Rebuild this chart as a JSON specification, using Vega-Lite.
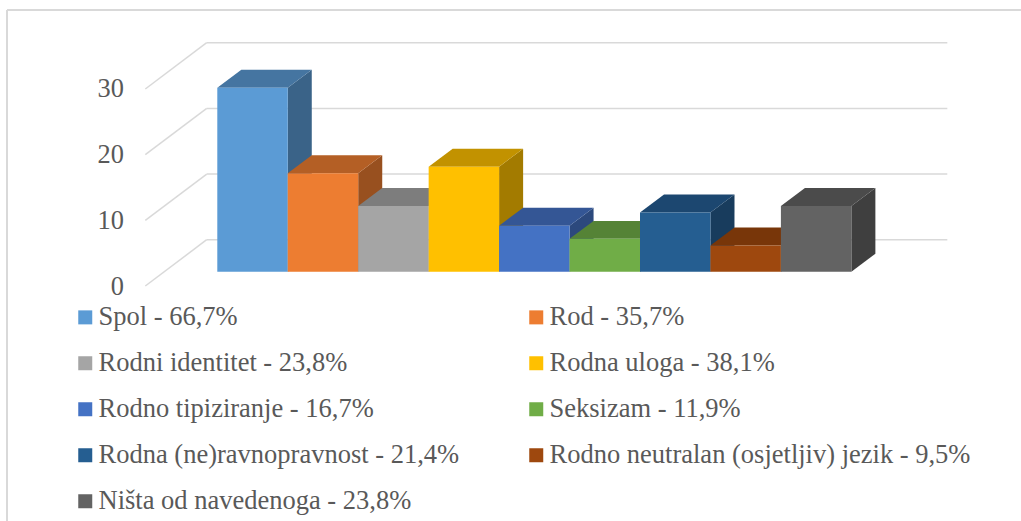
{"$schema":"https://vega.github.io/schema/vega-lite/v6.json","width":1014,"height":511,"autosize":{"type":"none"},"padding":{"left":7,"top":10,"right":0,"bottom":0},"background":"white","config":{"view":{"stroke":null},"font":"Liberation Serif","axisY":{"title":null,"domain":false,"ticks":false,"grid":false,"labelFont":"Liberation Serif","labelFontSize":26.4,"labelColor":"#595959","labelPadding":0,"labelOffset":14.3,"offset":-116.5,"labelBound":false,"labelFlush":false,"labelOverlap":false}},
"data":{"values":[{"label":"Spol - 66,7%","value":28},{"label":"Rod - 35,7%","value":15},{"label":"Rodni identitet - 23,8%","value":10},{"label":"Rodna uloga - 38,1%","value":16},{"label":"Rodno tipiziranje - 16,7%","value":7},{"label":"Seksizam - 11,9%","value":5},{"label":"Rodna (ne)ravnopravnost - 21,4%","value":9},{"label":"Rodno neutralan (osjetljiv) jezik - 9,5%","value":4},{"label":"Ništa od navedenoga - 23,8%","value":10}]},
"transform":[{"window":[{"op":"row_number","as":"n"}]},{"calculate":"datum.n-1","as":"i"},{"calculate":"datum.n","as":"i1"}],
"resolve":{"scale":{"color":"independent"}},
"layer":[
{"data":{"values":[{"tick":0},{"tick":10},{"tick":20},{"tick":30}]},"transform":[{"calculate":"datum.tick+4.87","as":"back"},{"calculate":"-0.15","as":"xa"},{"calculate":"10.362","as":"xb"}],"mark":{"type":"rule","stroke":"#d9d9d9","strokeWidth":1.5},"encoding":{"x":{"field":"xa","type":"quantitative","scale":{"domain":[-2.985,11.408],"nice":false,"zero":false},"axis":null},"x2":{"field":"xb"},"y":{"field":"back","type":"quantitative","title":null,"axis":{"values":[0,10,20,30]},"scale":{"domain":[-37.96,39.85],"nice":false,"zero":false}}}},
{"data":{"values":[{"tick":0},{"tick":10},{"tick":20},{"tick":30}]},"transform":[{"calculate":"datum.tick+4.87","as":"back"},{"calculate":"datum.tick-2.18","as":"front"},{"calculate":"-1.022","as":"xa"},{"calculate":"-0.15","as":"xb"}],"mark":{"type":"rule","stroke":"#d9d9d9","strokeWidth":1.5},"encoding":{"x":{"field":"xa","type":"quantitative","scale":{"domain":[-2.985,11.408],"nice":false,"zero":false},"axis":null},"x2":{"field":"xb"},"y":{"field":"front","type":"quantitative","title":null,"axis":{"values":[0,10,20,30]},"scale":{"domain":[-37.96,39.85],"nice":false,"zero":false}},"y2":{"field":"back"}}},
{"mark":{"type":"rule","stroke":"#d9d9d9","strokeWidth":2},"encoding":{"x":{"datum":-2.985,"type":"quantitative","scale":{"domain":[-2.985,11.408],"nice":false,"zero":false},"axis":null}}},
{"mark":{"type":"rule","stroke":"#d9d9d9","strokeWidth":2},"encoding":{"y":{"datum":39.85,"type":"quantitative","title":null,"axis":{"values":[0,10,20,30]},"scale":{"domain":[-37.96,39.85],"nice":false,"zero":false}}}},
{"transform":[{"calculate":"[0,1]","as":"t"},{"flatten":["t"]},{"calculate":"datum.i+1+datum.t*0.341","as":"sx"},{"calculate":"datum.t*2.74","as":"lo"},{"calculate":"datum.value+datum.t*2.74","as":"hi"}],"mark":{"type":"area","interpolate":"linear"},"encoding":{"x":{"field":"sx","type":"quantitative","scale":{"domain":[-2.985,11.408],"nice":false,"zero":false},"axis":null},"y":{"field":"hi","type":"quantitative","title":null,"axis":{"values":[0,10,20,30]},"stack":null,"scale":{"domain":[-37.96,39.85],"nice":false,"zero":false}},"y2":{"field":"lo"},"color":{"field":"label","type":"nominal","legend":null,"scale":{"domain":["Spol - 66,7%","Rod - 35,7%","Rodni identitet - 23,8%","Rodna uloga - 38,1%","Rodno tipiziranje - 16,7%","Seksizam - 11,9%","Rodna (ne)ravnopravnost - 21,4%","Rodno neutralan (osjetljiv) jezik - 9,5%","Ništa od navedenoga - 23,8%"],"range":["#3A6388","#98501F","#696969","#A37B00","#2C497D","#486F2D","#183C5D","#652E09","#3F3F3F"]}}}},
{"transform":[{"calculate":"[0,1,2,3]","as":"t"},{"flatten":["t"]},{"calculate":"datum.i+[0,0.341,1,1.341][datum.t]","as":"tx"},{"calculate":"datum.value+[0,2.74,2.74,2.74][datum.t]","as":"up"},{"calculate":"datum.value+[0,0,0,2.74][datum.t]","as":"dn"}],"mark":{"type":"area","interpolate":"linear"},"encoding":{"x":{"field":"tx","type":"quantitative","scale":{"domain":[-2.985,11.408],"nice":false,"zero":false},"axis":null},"y":{"field":"up","type":"quantitative","title":null,"axis":{"values":[0,10,20,30]},"stack":null,"scale":{"domain":[-37.96,39.85],"nice":false,"zero":false}},"y2":{"field":"dn"},"color":{"field":"label","type":"nominal","legend":null,"scale":{"domain":["Spol - 66,7%","Rod - 35,7%","Rodni identitet - 23,8%","Rodna uloga - 38,1%","Rodno tipiziranje - 16,7%","Seksizam - 11,9%","Rodna (ne)ravnopravnost - 21,4%","Rodno neutralan (osjetljiv) jezik - 9,5%","Ništa od navedenoga - 23,8%"],"range":["#4575A1","#B45F25","#7D7D7D","#C29200","#345695","#558336","#1C4770","#783609","#4B4B4B"]}}}},
{"transform":[{"calculate":"0","as":"base"}],"mark":{"type":"rect"},"encoding":{"x":{"field":"i","type":"quantitative","scale":{"domain":[-2.985,11.408],"nice":false,"zero":false},"axis":null},"x2":{"field":"i1"},"y":{"field":"value","type":"quantitative","title":null,"axis":{"values":[0,10,20,30]},"scale":{"domain":[-37.96,39.85],"nice":false,"zero":false}},"y2":{"field":"base"},"color":{"field":"label","type":"nominal","scale":{"domain":["Spol - 66,7%","Rod - 35,7%","Rodni identitet - 23,8%","Rodna uloga - 38,1%","Rodno tipiziranje - 16,7%","Seksizam - 11,9%","Rodna (ne)ravnopravnost - 21,4%","Rodno neutralan (osjetljiv) jezik - 9,5%","Ništa od navedenoga - 23,8%"],"range":["#5B9BD5","#ED7D31","#A5A5A5","#FFC000","#4472C4","#70AD47","#255E91","#9E480E","#636363"]},"legend":{"orient":"none","legendX":65,"legendY":294,"title":null,"direction":"horizontal","columns":2,"columnPadding":63,"rowPadding":19,"symbolType":"square","symbolSize":196,"symbolStrokeWidth":0,"labelFont":"Liberation Serif","labelFontSize":26.5,"labelColor":"#595959","labelLimit":600,"labelOffset":0,"padding":0}}}}
]}
